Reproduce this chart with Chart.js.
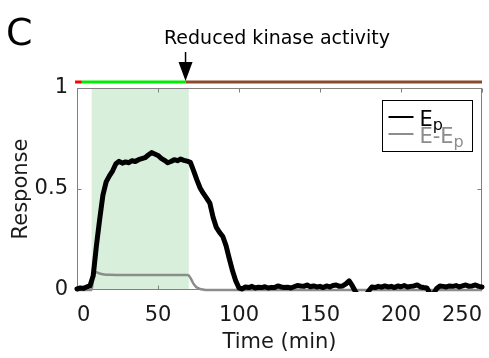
<!DOCTYPE html>
<html><head><meta charset="utf-8">
<script src="https://cdn.jsdelivr.net/npm/chart.js@4/dist/chart.umd.min.js"></script>
<style>html,body{margin:0;padding:0;background:#fff}canvas{display:block}</style>
</head><body>
<canvas id="c" width="489" height="358"></canvas>
<script>
// ---- data ----
const timeEp = [0,2,4,6,8,10,12,14,16,18,20,22,24,26,28,30,32,34,36,38,40,42,44,46,48,50,52,54,56,58,60,62,64,66,68,70,72,74,76,78,80,82,84,86,88,90,92,94,96,98,100,102,104,106,108,110,112,114,116,118,120,122,124,126,128,130,132,134,136,138,140,142,144,146,148,150,152,154,156,158,160,162,164,166,168,170,172,174,176,178,180,182,184,186,188,190,192,194,196,198,200,202,204,206,208,210,212,214,216,218,220,222,224,226,228,230,232,234,236,238,240,242,244,246,248,250];
const valuesEp = [0.005,0.01,0.008,0.015,0.02,0.07,0.22,0.35,0.47,0.535,0.565,0.59,0.625,0.637,0.628,0.634,0.63,0.64,0.636,0.645,0.65,0.655,0.668,0.68,0.673,0.666,0.652,0.642,0.63,0.636,0.645,0.64,0.648,0.642,0.638,0.632,0.59,0.545,0.505,0.478,0.455,0.43,0.36,0.31,0.285,0.265,0.22,0.155,0.095,0.045,0.01,0.005,0.015,0.012,0.018,0.01,0.014,0.012,0.016,0.01,0.013,0.012,0.02,0.015,0.012,0.014,0.01,0.016,0.022,0.02,0.018,0.025,0.016,0.02,0.015,0.018,0.012,0.02,0.015,0.022,0.025,0.018,0.02,0.03,0.045,0.02,-0.01,-0.03,-0.03,-0.03,-0.005,0.015,0.012,0.018,0.014,0.02,0.015,0.018,0.012,0.02,0.016,0.022,0.015,0.018,0.02,0.025,0.015,0.012,0.01,-0.02,-0.02,0.008,0.02,0.018,0.015,0.02,0.018,0.022,0.015,0.02,0.025,0.018,0.02,0.025,0.018,0.015];
const timeFree = [0,9,10,11,12,14,16,18,20,30,40,50,60,68,69,70,71,72,73,74,76,78,80,250];
const valuesFree = [0,0,0.06,0.09,0.088,0.082,0.078,0.076,0.075,0.074,0.074,0.074,0.074,0.074,0.072,0.06,0.045,0.03,0.02,0.012,0.005,0.002,0,0];
const xTicks = [0,50,100,150,200,250];
const yTicks = [0,0.5,1];
const seriesNames = ['E\u209A','E-E\u209A'];
const legendMain = ['E','E-E'];
const legendSub = ['p','p'];
const shadeWindow = [9,69];
const phaseBounds = [-1.2,3,67,250];
const arrowTime = 67;
const annotationText = 'Reduced kinase activity';
const panelLetter = 'C';
const xTitle = 'Time (min)';
const yTitle = 'Response';

// ---- styles ----
const FONT = '"DejaVu Sans", Verdana, sans-serif';
const phaseColors = ['#ff0000','#00ee00','#8b4a2b'];
const lineColors = ['#000000','#8c8c8c'];
const frameColor = '#808080';
const textColor = '#1a1a1a';
const shadeColor = 'rgb(216,240,219)';

const decor = {
  id:'decor',
  beforeDatasetsDraw(chart){
    const {ctx, chartArea:a, scales:{x,y}} = chart;
    ctx.save();
    const x0 = x.getPixelForValue(shadeWindow[0]), x1 = x.getPixelForValue(shadeWindow[1]);
    ctx.fillStyle = shadeColor;
    ctx.fillRect(x0, a.top, x1-x0, a.bottom-a.top);
    ctx.strokeStyle = frameColor; ctx.lineWidth = 1;
    const L = Math.round(a.left)+0.5, R = Math.round(a.right)-0.5, T = Math.round(a.top)+0.5, B = Math.round(a.bottom)-0.5;
    ctx.strokeRect(L, T, R-L, B-T);
    ctx.beginPath();
    xTicks.forEach(v=>{ const px = Math.round(x.getPixelForValue(v))+0.5; ctx.moveTo(px,T); ctx.lineTo(px,T+4); ctx.moveTo(px,B); ctx.lineTo(px,B-4); });
    yTicks.forEach(v=>{ const py = Math.round(y.getPixelForValue(v))+0.5; ctx.moveTo(L,py); ctx.lineTo(L+4,py); ctx.moveTo(R,py); ctx.lineTo(R-4,py); });
    ctx.stroke();
    ctx.restore();
  },
  afterDraw(chart){
    const {ctx, chartArea:a, scales:{x,y}} = chart;
    ctx.save();
    // phase bar
    const by = a.top - 6;
    ctx.lineWidth = 3;
    for(let i=0;i<3;i++){
      ctx.strokeStyle = phaseColors[i];
      ctx.beginPath();
      ctx.moveTo(x.getPixelForValue(phaseBounds[i]), by);
      ctx.lineTo(x.getPixelForValue(phaseBounds[i+1]), by);
      ctx.stroke();
    }
    // arrow
    const ax = x.getPixelForValue(arrowTime);
    ctx.strokeStyle = '#000'; ctx.fillStyle = '#000'; ctx.lineWidth = 1.5;
    ctx.beginPath(); ctx.moveTo(ax, 52); ctx.lineTo(ax, 66); ctx.stroke();
    ctx.beginPath(); ctx.moveTo(ax-7, 62); ctx.lineTo(ax+7, 62); ctx.lineTo(ax, by-1); ctx.closePath(); ctx.fill();
    // annotation text
    ctx.font = '19px ' + FONT; ctx.textAlign = 'center'; ctx.textBaseline = 'alphabetic';
    ctx.fillText(annotationText, 277, 44);
    // panel letter
    ctx.font = '38px ' + FONT; ctx.textAlign = 'left';
    ctx.fillText(panelLetter, 6, 45);
    // legend
    const bx1 = a.right - 9.5, bx0 = bx1 - 90, by0 = a.top + 12.5, by1 = by0 + 51;
    ctx.fillStyle = '#fff'; ctx.fillRect(bx0, by0, bx1-bx0, by1-by0);
    ctx.strokeStyle = '#000'; ctx.lineWidth = 1; ctx.strokeRect(bx0, by0, bx1-bx0, by1-by0);
    const rowsY = [117, 134];
    for(let i=0;i<2;i++){
      ctx.strokeStyle = lineColors[i]; ctx.lineWidth = 2;
      ctx.beginPath(); ctx.moveTo(bx0+6, rowsY[i]); ctx.lineTo(bx0+31, rowsY[i]); ctx.stroke();
      ctx.fillStyle = lineColors[i];
      ctx.font = '21px ' + FONT; ctx.textAlign = 'left';
      ctx.fillText(legendMain[i], bx0+37, rowsY[i]+9);
      const w = ctx.measureText(legendMain[i]).width;
      ctx.font = '16px ' + FONT;
      ctx.fillText(legendSub[i], bx0+37+w, rowsY[i]+13);
    }
    ctx.restore();
  }
};

new Chart(document.getElementById('c'), {
  type:'line',
  data:{
    datasets:[
      {label:seriesNames[0], data: timeEp.map((t,i)=>({x:t,y:valuesEp[i]})), borderColor:lineColors[0], borderWidth:5, pointRadius:0, borderJoinStyle:'round', borderCapStyle:'round', clip:{left:5,right:5,top:5,bottom:2}},
      {label:seriesNames[1], data: timeFree.map((t,i)=>({x:t,y:valuesFree[i]})), borderColor:lineColors[1], borderWidth:2.5, pointRadius:0, cubicInterpolationMode:'monotone', clip:{left:5,right:5,top:5,bottom:2}}
    ]
  },
  options:{
    responsive:false, animation:false, events:[],
    layout:{padding:{top:88,right:7,left:0,bottom:0}},
    plugins:{legend:{display:false}, tooltip:{enabled:false}},
    scales:{
      x:{type:'linear', min:0, max:250,
        afterFit(s){ s.height = 68; s.paddingLeft = 0; s.paddingRight = 0; },
        afterBuildTicks(s){ s.ticks = xTicks.map(v=>({value:v})); },
        grid:{display:false, drawTicks:false}, border:{display:false},
        ticks:{align:'inner', maxRotation:0, autoSkip:false, padding:13, color:textColor, font:{family:FONT, size:21}, callback:v=>String(v)},
        title:{display:true, text:xTitle, color:textColor, font:{family:FONT, size:21}, padding:{top:0,bottom:3}}
      },
      y:{min:0, max:1,
        afterFit(s){ s.width = 77; s.paddingTop = 0; s.paddingBottom = 0; },
        afterBuildTicks(s){ s.ticks = yTicks.map(v=>({value:v})); },
        grid:{display:false, drawTicks:false}, border:{display:false},
        ticks:{padding:9, color:textColor, font:{family:FONT, size:21}, callback:v=>String(v)},
        title:{display:true, text:yTitle, color:textColor, font:{family:FONT, size:21}, padding:{top:9,bottom:0}}
      }
    }
  },
  plugins:[decor]
});
</script>
</body></html>
